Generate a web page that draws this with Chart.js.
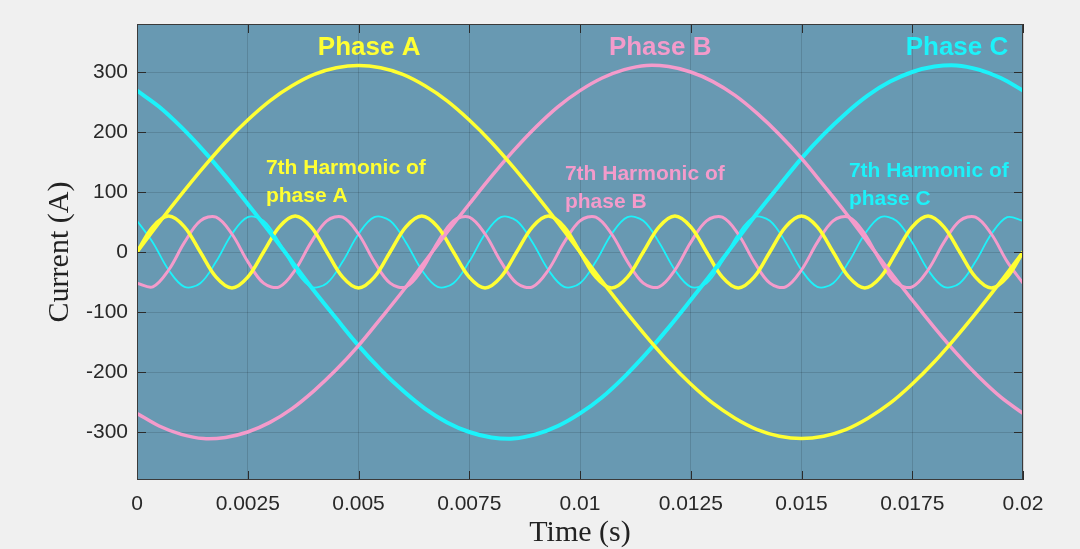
<!DOCTYPE html>
<html>
<head>
<meta charset="utf-8">
<script src="https://cdn.jsdelivr.net/npm/chart.js@4.4.1/dist/chart.umd.min.js"></script>
<style>
  html, body { margin: 0; padding: 0; background: #f0f0f0; }
  canvas { display: block; }
</style>
</head>
<body>
<canvas id="waveChart" width="1080" height="549"></canvas>
<script>
// fundamental currents, sampled every 0.5 ms
var tFund = [0, 0.0005, 0.001, 0.0015, 0.002, 0.0025, 0.003, 0.0035, 0.004, 0.0045, 0.005,
  0.0055, 0.006, 0.0065, 0.007, 0.0075, 0.008, 0.0085, 0.009, 0.0095, 0.01,
  0.0105, 0.011, 0.0115, 0.012, 0.0125, 0.013, 0.0135, 0.014, 0.0145, 0.015,
  0.0155, 0.016, 0.0165, 0.017, 0.0175, 0.018, 0.0185, 0.019, 0.0195, 0.02];
var phaseA = [0, 49, 96, 141, 183, 220, 252, 277, 296, 307, 311,
  307, 296, 277, 252, 220, 183, 141, 96, 49, 0,
  -49, -96, -141, -183, -220, -252, -277, -296, -307, -311,
  -307, -296, -277, -252, -220, -183, -141, -96, -49, 0];
var phaseB = [-269, -290, -304, -311, -309, -300, -284, -261, -231, -196, -156,
  -111, -65, -16, 33, 80, 126, 169, 208, 242, 269,
  290, 304, 311, 309, 300, 284, 261, 231, 196, 156,
  111, 65, 16, -33, -80, -126, -169, -208, -242, -269];
var phaseC = [269, 242, 208, 169, 126, 80, 33, -16, -65, -111, -156,
  -196, -231, -261, -284, -300, -309, -311, -304, -290, -269,
  -242, -208, -169, -126, -80, -33, 16, 65, 111, 156,
  196, 231, 261, 284, 300, 309, 311, 304, 290, 269];

// 7th harmonic currents, sampled every 1/56 of the window
var tHarm = [0, 0.000357, 0.000714, 0.001071, 0.001429, 0.001786, 0.002143, 0.0025,
  0.002857, 0.003214, 0.003571, 0.003929, 0.004286, 0.004643, 0.005, 0.005357,
  0.005714, 0.006071, 0.006429, 0.006786, 0.007143, 0.0075, 0.007857, 0.008214,
  0.008571, 0.008929, 0.009286, 0.009643, 0.01, 0.010357, 0.010714, 0.011071,
  0.011429, 0.011786, 0.012143, 0.0125, 0.012857, 0.013214, 0.013571, 0.013929,
  0.014286, 0.014643, 0.015, 0.015357, 0.015714, 0.016071, 0.016429, 0.016786,
  0.017143, 0.0175, 0.017857, 0.018214, 0.018571, 0.018929, 0.019286, 0.019643, 0.02];
var harmA = [0, 42, 60, 42, 0, -42, -60, -42,  0, 42, 60, 42, 0, -42, -60, -42,
  0, 42, 60, 42, 0, -42, -60, -42,  0, 42, 60, 42, 0, -42, -60, -42,
  0, 42, 60, 42, 0, -42, -60, -42,  0, 42, 60, 42, 0, -42, -60, -42,
  0, 42, 60, 42, 0, -42, -60, -42,  0];
var harmB = [-52, -58, -30, 16, 52, 58, 30, -16,  -52, -58, -30, 16, 52, 58, 30, -16,
  -52, -58, -30, 16, 52, 58, 30, -16,  -52, -58, -30, 16, 52, 58, 30, -16,
  -52, -58, -30, 16, 52, 58, 30, -16,  -52, -58, -30, 16, 52, 58, 30, -16,
  -52, -58, -30, 16, 52, 58, 30, -16,  -52];
var harmC = [52, 16, -30, -58, -52, -16, 30, 58,  52, 16, -30, -58, -52, -16, 30, 58,
  52, 16, -30, -58, -52, -16, 30, 58,  52, 16, -30, -58, -52, -16, 30, 58,
  52, 16, -30, -58, -52, -16, 30, 58,  52, 16, -30, -58, -52, -16, 30, 58,
  52, 16, -30, -58, -52, -16, 30, 58,  52];

var xTickValues = [0, 0.0025, 0.005, 0.0075, 0.01, 0.0125, 0.015, 0.0175, 0.02];
var yTickValues = [-300, -200, -100, 0, 100, 200, 300];

var YELLOW = "#ffff33";
var PINK = "#f49bcb";
var CYAN = "#1cf2fa";

// text annotations placed in data units
var notes = [
  { lines: ["Phase A"], t: 0.00524, v: 328, color: YELLOW, size: 26, align: "center" },
  { lines: ["Phase B"], t: 0.01181, v: 328, color: PINK, size: 26, align: "center" },
  { lines: ["Phase C"], t: 0.01851, v: 328, color: CYAN, size: 26, align: "center" },
  { lines: ["7th Harmonic of", "phase A"], t: 0.00291, v: 130, color: YELLOW, size: 21, align: "left" },
  { lines: ["7th Harmonic of", "phase B"], t: 0.00966, v: 120, color: PINK, size: 21, align: "left" },
  { lines: ["7th Harmonic of", "phase C"], t: 0.01607, v: 125, color: CYAN, size: 21, align: "left" }
];

function pts(xs, ys) {
  return xs.map((x, i) => ({ x: x, y: ys[i] }));
}

const plotBox = {
  id: "plotBox",
  beforeDraw(chart) {
    const { ctx, chartArea: a } = chart;
    ctx.save();
    ctx.fillStyle = "#6899b2";
    ctx.fillRect(a.left, a.top, a.right - a.left, a.bottom - a.top);
    ctx.restore();
  },
  afterDraw(chart) {
    const { ctx, chartArea: a, scales } = chart;
    ctx.save();
    // notes
    notes.forEach(n => {
      ctx.font = "bold " + n.size + "px 'Liberation Sans', Arial, sans-serif";
      ctx.fillStyle = n.color;
      ctx.textAlign = n.align;
      ctx.textBaseline = "alphabetic";
      let px = scales.x.getPixelForValue(n.t);
      let py = scales.y.getPixelForValue(n.v);
      n.lines.forEach((l, i) => ctx.fillText(l, px, py + i * 28));
    });
    // inward ticks and box
    ctx.strokeStyle = "#2b2b2b";
    ctx.lineWidth = 1;
    ctx.beginPath();
    xTickValues.forEach(v => {
      let x = Math.round(scales.x.getPixelForValue(v)) + 0.5;
      ctx.moveTo(x, a.bottom); ctx.lineTo(x, a.bottom - 9);
      ctx.moveTo(x, a.top); ctx.lineTo(x, a.top + 9);
    });
    yTickValues.forEach(v => {
      let y = Math.round(scales.y.getPixelForValue(v)) + 0.5;
      ctx.moveTo(a.left, y); ctx.lineTo(a.left + 9, y);
      ctx.moveTo(a.right, y); ctx.lineTo(a.right - 9, y);
    });
    ctx.stroke();
    ctx.strokeStyle = "#3a3a3a";
    ctx.strokeRect(a.left + 0.5, a.top + 0.5, a.right - a.left - 1, a.bottom - a.top - 1);
    ctx.restore();
  }
};

new Chart("waveChart", {
  type: "line",
  data: {
    datasets: [{
      label: "Phase A",
      data: pts(tFund, phaseA),
      borderColor: YELLOW,
      borderWidth: 3.5
    }, {
      label: "Phase B",
      data: pts(tFund, phaseB),
      borderColor: PINK,
      borderWidth: 3.5
    }, {
      label: "Phase C",
      data: pts(tFund, phaseC),
      borderColor: CYAN,
      borderWidth: 4
    }, {
      label: "7th harmonic A",
      data: pts(tHarm, harmA),
      borderColor: YELLOW,
      borderWidth: 3.5
    }, {
      label: "7th harmonic B",
      data: pts(tHarm, harmB),
      borderColor: PINK,
      borderWidth: 3
    }, {
      label: "7th harmonic C",
      data: pts(tHarm, harmC),
      borderColor: CYAN,
      borderWidth: 1.8
    }]
  },
  options: {
    responsive: false,
    animation: false,
    devicePixelRatio: 1,
    layout: { padding: { top: 24, right: 57, left: 0, bottom: 0 } },
    elements: {
      point: { radius: 0 },
      line: { tension: 0.35, fill: false }
    },
    plugins: {
      legend: { display: false },
      tooltip: { enabled: false }
    },
    scales: {
      x: {
        type: "linear",
        min: 0,
        max: 0.02,
        afterBuildTicks: (s) => { s.ticks = xTickValues.map(v => ({ value: v })); },
        afterFit: (s) => { s.height = 69; },
        grid: { color: "rgba(0,0,0,0.13)", drawTicks: false },
        border: { display: false },
        ticks: {
          padding: 12,
          color: "#282828",
          font: { family: "'Liberation Sans', Arial, sans-serif", size: 21 },
          callback: (v) => String(v)
        },
        title: {
          display: true,
          text: "Time (s)",
          color: "#222",
          font: { family: "'Liberation Serif', 'Times New Roman', serif", size: 30, lineHeight: 1 },
          padding: { top: 0, bottom: 1 }
        }
      },
      y: {
        min: -380,
        max: 380,
        afterBuildTicks: (s) => { s.ticks = yTickValues.map(v => ({ value: v })); },
        afterFit: (s) => { s.width = 137; },
        grid: { color: "rgba(0,0,0,0.13)", drawTicks: false },
        border: { display: false },
        ticks: {
          padding: 9,
          color: "#282828",
          font: { family: "'Liberation Sans', Arial, sans-serif", size: 21 }
        },
        title: {
          display: true,
          text: "Current (A)",
          color: "#222",
          font: { family: "'Liberation Serif', 'Times New Roman', serif", size: 30, lineHeight: 1 },
          padding: { top: 45, bottom: 0 }
        }
      }
    }
  },
  plugins: [plotBox]
});
</script>
</body>
</html>
